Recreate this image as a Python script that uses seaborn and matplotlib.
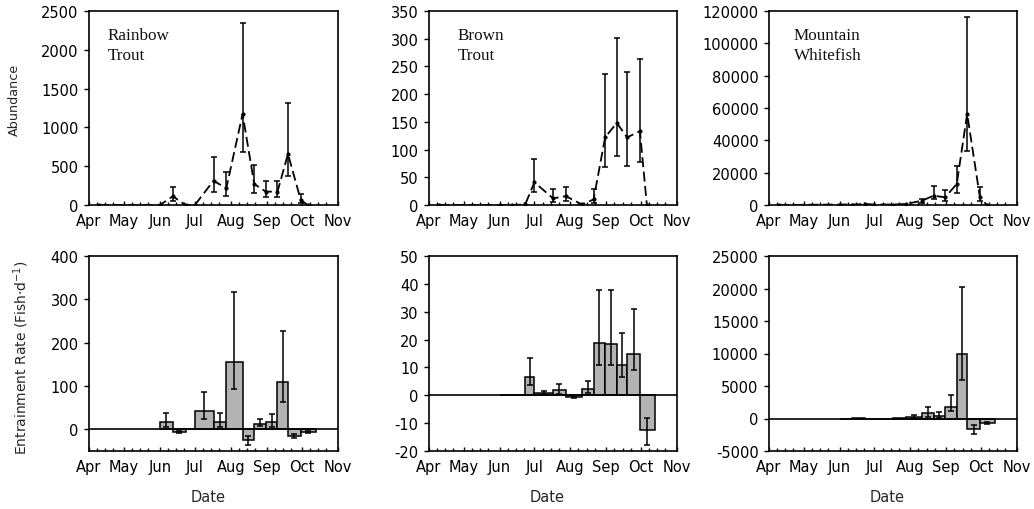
import numpy as np
import pandas as pd
import matplotlib
matplotlib.use("Agg")
import matplotlib.pyplot as plt
import matplotlib.dates as mdates
import seaborn as sns

YEAR = 2005

# ---------------- data ----------------
species = ["Rainbow\nTrout", "Brown\nTrout", "Mountain\nWhitefish"]
month_labels = ["Apr", "May", "Jun", "Jul", "Aug", "Sep", "Oct", "Nov"]

sample_dates = ["04-10", "06-01", "06-12", "06-23", "07-01", "07-17", "07-28",
                "08-11", "08-21", "08-31", "09-10", "09-19", "09-30", "10-06"]

rbt_abund = [0, 0, 112, 0, 0, 313, 215, 1173, 271, 172, 172, 657, 64, 0]
rbt_abund_lo = [0, 0, 55, 0, 0, 172, 120, 679, 150, 99, 99, 378, 30, 0]
rbt_abund_hi = [0, 0, 228, 0, 0, 615, 421, 2346, 516, 313, 313, 1315, 142, 0]

bnt_abund = [0, 0, 0, 1, 41, 12, 16, 1, 10, 122, 148, 122, 133, 0]
bnt_abund_lo = [0, 0, 0, 1, 24, 6, 8, 1, 3, 69, 89, 71, 77, 0]
bnt_abund_hi = [0, 0, 0, 1, 83, 28, 32, 1, 28, 236, 302, 240, 263, 0]

mwf_abund = [0, 300, 300, 600, 300, 300, 600, 2660, 5750, 4760, 13000, 56300, 4760, 0]
mwf_abund_lo = [0, 300, 300, 600, 300, 300, 600, 1500, 3700, 2660, 7400, 33600, 2500, 0]
mwf_abund_hi = [0, 300, 300, 600, 300, 300, 600, 3800, 11500, 9460, 24300, 116100, 10950, 0]

rate_start = ["06-01", "06-12", "06-23", "07-01", "07-17", "07-28",
              "08-11", "08-21", "08-31", "09-10", "09-19", "09-30"]
rate_end = ["06-12", "06-23", "07-01", "07-17", "07-28", "08-11",
            "08-21", "08-31", "09-10", "09-19", "09-30", "10-13"]

rbt_rate = [18, -5, 0, 43, 18, 155, -24, 13, 17, 110, -16, -6]
rbt_rate_lo = [5, -8, 0, 24, 5, 92, -35, 8, 5, 64, -20, -8]
rbt_rate_hi = [38, -3, 0, 87, 38, 317, -15, 24, 36, 226, -10, -4]

bnt_rate = [0, 0, 6.6, 0.9, 1.8, -0.6, 2.4, 18.7, 18.3, 10.7, 14.9, -12.5]
bnt_rate_lo = [0, 0, 3.8, 0.3, 0.6, -0.8, 1.0, 11, 11, 6.6, 9.2, -17.9]
bnt_rate_hi = [0, 0, 13.4, 1.5, 3.9, -0.4, 5.0, 37.8, 37.8, 22.4, 30.8, -8]

mwf_rate = [0, 50, 0, 0, 40, 200, 830, 370, 1760, 10000, -1590, -660]
mwf_rate_lo = [0, 50, 0, 0, 40, 100, 200, 100, 1080, 5880, -2370, -800]
mwf_rate_hi = [0, 50, 0, 0, 40, 500, 1760, 990, 3660, 20300, -1000, -500]

abund_ylim = [(0, 2500), (0, 350), (0, 120000)]
abund_step = [500, 50, 20000]
rate_ylim = [(-50, 400), (-20, 50), (-5000, 25000)]
rate_ticks = [[0, 100, 200, 300, 400], list(range(-20, 51, 10)), list(range(-5000, 25001, 5000))]

# ---------------- style ----------------
sns.set_theme(style="ticks")
plt.rcParams["font.family"] = ["DejaVu Sans"]
plt.rcParams["axes.unicode_minus"] = False

def d(s):
    return pd.Timestamp(f"{YEAR}-{s}")

fig = plt.figure(figsize=(10.34, 5.10), dpi=100)
lefts = [89, 429, 769]
widths = [249, 248, 248]
W, H = 1034, 510

abund = [(rbt_abund, rbt_abund_lo, rbt_abund_hi),
         (bnt_abund, bnt_abund_lo, bnt_abund_hi),
         (mwf_abund, mwf_abund_lo, mwf_abund_hi)]
rates = [(rbt_rate, rbt_rate_lo, rbt_rate_hi),
         (bnt_rate, bnt_rate_lo, bnt_rate_hi),
         (mwf_rate, mwf_rate_lo, mwf_rate_hi)]
label_x = [0.076, 0.117, 0.10]

xmin, xmax = d("04-01"), d("11-01")
month_ticks = [d(f"{m:02d}-01") for m in range(4, 12)]
xdates = [d(s) for s in sample_dates]

def style_axis(ax):
    ax.set_xlim(xmin, xmax)
    ax.set_xticks(month_ticks)
    ax.set_xticklabels(month_labels)
    ax.xaxis.set_minor_locator(mdates.DayLocator(bymonthday=[1, 8, 15, 22]))
    ax.tick_params(axis="x", which="major", direction="in", length=3, width=1,
                   labelsize=10.5, pad=6, colors="black")
    ax.tick_params(axis="x", which="minor", direction="in", length=2.5, width=1, colors="black")
    ax.tick_params(axis="y", which="major", direction="out", length=3.5, width=1,
                   labelsize=10.5, pad=4, colors="black")
    for sp in ax.spines.values():
        sp.set_visible(True)
        sp.set_color("black")
        sp.set_linewidth(1.2)
    ax.set_xlabel("")
    ax.set_ylabel("")
    ax.grid(False)

for i in range(3):
    # top: abundance
    ax = fig.add_axes([lefts[i] / W, (H - 206) / H, widths[i] / W, 194 / H])
    vals, lo, hi = abund[i]
    df = pd.DataFrame({"date": xdates, "value": vals})
    sns.lineplot(data=df, x="date", y="value", ax=ax, color="black", lw=1.3,
                 dashes=False, linestyle=(0, (5.5, 2.5)), zorder=2)
    yerr = np.array([np.array(vals) - np.array(lo), np.array(hi) - np.array(vals)])
    mask = (yerr.sum(axis=0) > 0)
    ax.errorbar(np.array(xdates)[mask], np.array(vals)[mask], yerr=yerr[:, mask],
                fmt="none", ecolor="black", elinewidth=1.1, capsize=2.2, capthick=1.1, zorder=3)
    sns.scatterplot(data=df, x="date", y="value", ax=ax, color="black", s=9,
                    edgecolor="black", linewidth=0, zorder=4)
    ax.set_ylim(*abund_ylim[i])
    ax.set_yticks(np.arange(abund_ylim[i][0], abund_ylim[i][1] + 1, abund_step[i]))
    style_axis(ax)
    ax.text(label_x[i], 0.915, species[i], transform=ax.transAxes, ha="left", va="top",
            family="Liberation Serif", fontsize=12.3, linespacing=1.3, color="#111111")
    if i == 0:
        ax.set_ylabel("Abundance", family="DejaVu Sans", fontsize=9.2)
        ax.yaxis.set_label_coords(-0.272, 0.546)

    # bottom: entrainment rate
    axb = fig.add_axes([lefts[i] / W, (H - 452) / H, widths[i] / W, 195 / H])
    rv, rlo, rhi = rates[i]
    starts = np.array([mdates.date2num(d(s)) for s in rate_start])
    ends = np.array([mdates.date2num(d(s)) for s in rate_end])
    axb.bar(starts, rv, width=ends - starts, align="edge", color="#b3b3b3",
            edgecolor="black", linewidth=1.1, zorder=2)
    mids = (starts + ends) / 2
    ryerr = np.array([np.array(rv) - np.array(rlo), np.array(rhi) - np.array(rv)])
    rmask = (np.abs(ryerr).sum(axis=0) > 0)
    axb.errorbar(mids[rmask], np.array(rv)[rmask], yerr=np.abs(ryerr[:, rmask]),
                 fmt="none", ecolor="black", elinewidth=1.1, capsize=2.2, capthick=1.1, zorder=3)
    axb.axhline(0, color="black", lw=1.2, zorder=4)
    axb.set_ylim(*rate_ylim[i])
    axb.set_yticks(rate_ticks[i])
    style_axis(axb)
    axb.set_xlabel("Date", fontsize=10.5)
    axb.xaxis.set_label_coords(0.478, -0.195)
    if i == 0:
        axb.set_ylabel("Entrainment Rate (Fish$\\cdot$d$^{-1}$)", fontsize=10)
        axb.yaxis.set_label_coords(-0.232, 0.485)

fig.savefig("out.png", dpi=100)
